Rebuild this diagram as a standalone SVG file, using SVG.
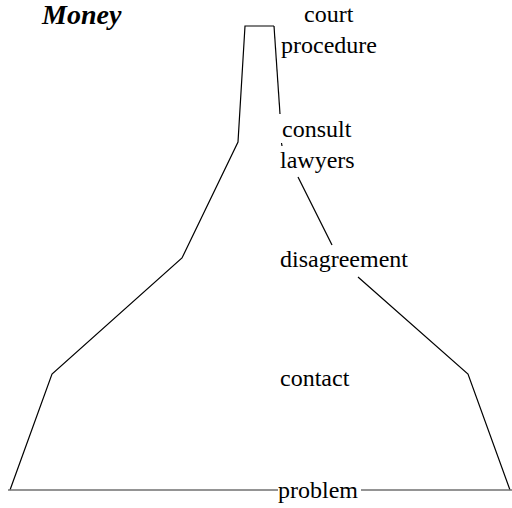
<svg xmlns="http://www.w3.org/2000/svg" width="512" height="508" viewBox="0 0 512 508">
  <style>
    .lbl { font-family: "Liberation Serif", "Times New Roman", "DejaVu Serif", serif; font-size: 24px; fill: #000; }
    .title { font-family: "Liberation Serif", "Times New Roman", "DejaVu Serif", serif; font-size: 28px; font-weight: bold; font-style: italic; fill: #000; }
    .edge { fill: none; stroke: #000; stroke-width: 1.2; }
    .base { fill: none; stroke: #707070; stroke-width: 1.6; }
  </style>
  <rect width="512" height="508" fill="#fff"/>

  <g id="connectors">
    <!-- left flank of the funnel -->
    <polyline class="edge" points="274,26 245,26 238,142 182,258 52,374 10,490"/>
    <!-- right flank, broken by the stage labels -->
    <polyline class="edge" points="274,26 280,114"/>
    <line class="edge" x1="281.5" y1="143" x2="282" y2="146"/>
    <line class="edge" x1="298" y1="177" x2="332" y2="245"/>
    <polyline class="edge" points="358,277 468,374 510,490"/>
    <!-- base line -->
    <line class="base" x1="8" y1="490" x2="278" y2="490"/>
    <line class="base" x1="361" y1="490" x2="512" y2="490"/>
  </g>

  <g id="title">
    <text class="title" x="42" y="24">Money</text>
  </g>
  <g id="court-procedure">
    <text class="lbl" x="304" y="22">court</text>
    <text class="lbl" x="281" y="53">procedure</text>
  </g>
  <g id="consult-lawyers">
    <text class="lbl" x="282" y="137">consult</text>
    <text class="lbl" x="280" y="168">lawyers</text>
  </g>
  <g id="disagreement">
    <text class="lbl" x="280" y="267">disagreement</text>
  </g>
  <g id="contact">
    <text class="lbl" x="280" y="386">contact</text>
  </g>
  <g id="problem">
    <text class="lbl" x="278" y="498">problem</text>
  </g>
</svg>
